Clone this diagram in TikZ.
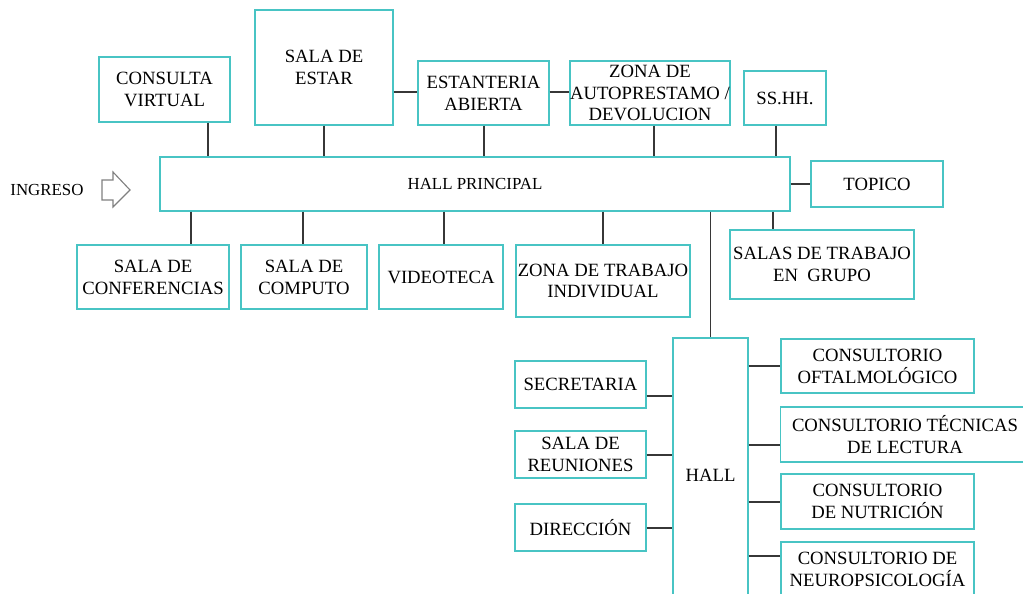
\documentclass[tikz,border=0pt]{standalone}
\usepackage{fontspec}
\setmainfont{Liberation Serif}
\definecolor{borde}{RGB}{72,196,196}
\definecolor{linea}{RGB}{55,55,55}
\begin{document}
\begin{tikzpicture}[x=0.025cm,y=-0.025cm,
  room/.style={draw=borde,line width=1pt,align=center,inner sep=0pt,
    font=\fontsize{13.3}{15.5}\selectfont},
  link/.style={draw=linea,line width=0.9pt}]
  \useasboundingbox (0,0) rectangle (1023,593);
  \clip (0,0) rectangle (1023,593);
  % fila superior
  \node[room,minimum width=3.275cm,minimum height=1.625cm] (consulta) at (164.5,89.5) {CONSULTA\\VIRTUAL};
  \node[room,minimum width=3.45cm,minimum height=2.875cm] (estar) at (324,67.5) {SALA DE\\ESTAR};
  \node[room,minimum width=3.275cm,minimum height=1.6cm] (estanteria) at (483.5,93) {ESTANTERIA\\ABIERTA};
  \node[room,minimum width=3.9cm,minimum height=1.6cm] (autoprest) at (650,93) {ZONA DE\\AUTOPRESTAMO /\\DEVOLUCION};
  \node[room,minimum width=2.05cm,minimum height=1.35cm] (sshh) at (785,98) {SS.HH.};
  % hall principal
  \node[room,minimum width=15.75cm,minimum height=1.35cm,font=\fontsize{12}{14}\selectfont] (hallp) at (475,184) {HALL PRINCIPAL};
  \node[room,minimum width=3.3cm,minimum height=1.15cm] (topico) at (877,184) {TOPICO};
  \node[font=\fontsize{12}{14}\selectfont,inner sep=0pt] (ingreso) at (47,190) {INGRESO};
  \draw[gray,line width=0.8pt] (102,180) -- (113,180) -- (113,172) -- (130,190) -- (113,207) -- (113,200) -- (102,200) -- cycle;
  % fila inferior
  \node[room,minimum width=3.8cm,minimum height=1.6cm] (conferencias) at (153,277) {SALA DE\\CONFERENCIAS};
  \node[room,minimum width=3.15cm,minimum height=1.6cm] (computo) at (304,277) {SALA DE\\COMPUTO};
  \node[room,minimum width=3.1cm,minimum height=1.6cm] (videoteca) at (441,277) {VIDEOTECA};
  \node[room,minimum width=4.35cm,minimum height=1.8cm] (individual) at (603,281) {ZONA DE TRABAJO\\INDIVIDUAL};
  \node[room,minimum width=4.6cm,minimum height=1.725cm] (grupo) at (822,264.5) {SALAS DE TRABAJO\\EN~ GRUPO};
  % hall
  \node[room,minimum width=1.875cm,minimum height=6.85cm] (hall) at (710.5,475) {HALL};
  \node[room,minimum width=3.275cm,minimum height=1.175cm] (secretaria) at (580.5,384.5) {SECRETARIA};
  \node[room,minimum width=3.275cm,minimum height=1.175cm] (reuniones) at (580.5,454.5) {SALA DE\\REUNIONES};
  \node[room,minimum width=3.275cm,minimum height=1.175cm] (direccion) at (580.5,527.5) {DIRECCIÓN};
  \node[room,minimum width=4.825cm,minimum height=1.35cm] (oftal) at (877.5,366) {CONSULTORIO\\OFTALMOLÓGICO};
  \node[room,minimum width=6.225cm,minimum height=1.375cm] (tecnicas) at (905,434.5) {CONSULTORIO TÉCNICAS\\DE LECTURA};
  \node[room,minimum width=4.825cm,minimum height=1.375cm] (nutricion) at (877.5,501.5) {CONSULTORIO\\DE NUTRICIÓN};
  \node[room,minimum width=4.825cm,minimum height=1.35cm] (neuro) at (877.5,569) {CONSULTORIO DE\\NEUROPSICOLOGÍA};
  % conexiones
  \draw[link] (consulta.south -| 208,0) -- (hallp.north -| 208,0);
  \draw[link] (estar.south) -- (estar.south |- hallp.north);
  \draw[link] (estanteria.south -| 484,0) -- (hallp.north -| 484,0);
  \draw[link] (autoprest.south -| 654,0) -- (hallp.north -| 654,0);
  \draw[link] (sshh.south -| 776,0) -- (hallp.north -| 776,0);
  \draw[link] (estar.east |- 0,92) -- (estanteria.west |- 0,92);
  \draw[link] (estanteria.east |- 0,92) -- (autoprest.west |- 0,92);
  \draw[link] (hallp.east) -- (topico.west);
  \draw[link] (hallp.south -| 191,0) -- (conferencias.north -| 191,0);
  \draw[link] (hallp.south -| 303,0) -- (computo.north -| 303,0);
  \draw[link] (hallp.south -| 444,0) -- (videoteca.north -| 444,0);
  \draw[link] (hallp.south -| 603,0) -- (individual.north);
  \draw[link] (hallp.south -| 773,0) -- (grupo.north -| 773,0);
  \draw[link] (hallp.south -| hall.north) -- (hall.north);
  \draw[link] (secretaria.east |- 0,396) -- (hall.west |- 0,396);
  \draw[link] (reuniones.east |- 0,455) -- (hall.west |- 0,455);
  \draw[link] (direccion.east |- 0,528) -- (hall.west |- 0,528);
  \draw[link] (hall.east |- oftal.west) -- (oftal.west);
  \draw[link] (hall.east |- 0,445) -- (tecnicas.west |- 0,445);
  \draw[link] (hall.east |- 0,502) -- (nutricion.west |- 0,502);
  \draw[link] (hall.east |- 0,556) -- (neuro.west |- 0,556);
\end{tikzpicture}
\end{document}
